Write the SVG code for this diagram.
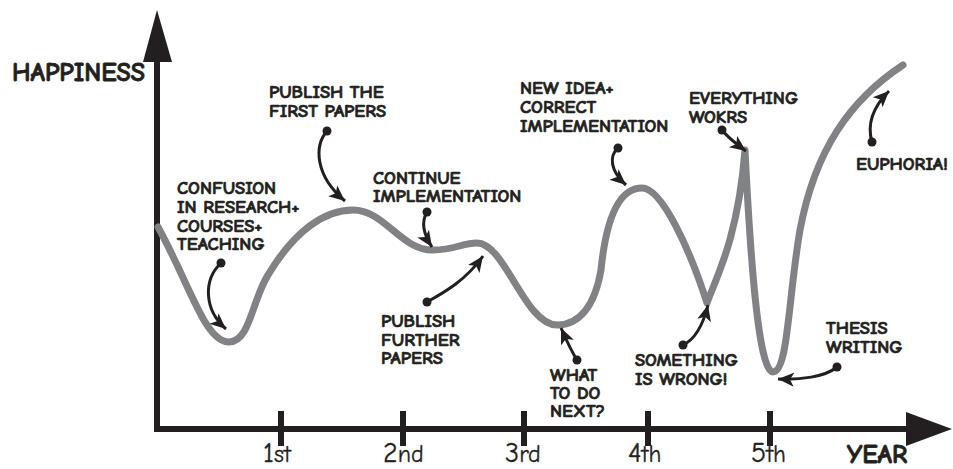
<svg xmlns="http://www.w3.org/2000/svg" width="953" height="469" viewBox="0 0 953 469">
  <style>
    .axis { stroke: #231f20; stroke-width: 6; fill: none; }
    .tick { stroke: #231f20; stroke-width: 6; }
    .curve { stroke: #808285; stroke-width: 7; fill: none; stroke-linejoin: round; stroke-linecap: round; }
    .pointer { stroke: #231f20; stroke-width: 3; fill: none; marker-end: url(#head); }
    .dot { fill: #231f20; }
    .note { font-family: "Comic Sans MS", "Comic Neue", "Liberation Sans", Arial, sans-serif; font-weight: bold; font-size: 18.5px; fill: #231f20; stroke: #231f20; stroke-width: 0.7; }
    .axis-title { font-family: "Comic Sans MS", "Comic Neue", "Liberation Sans", Arial, sans-serif; font-weight: bold; font-size: 26px; fill: #231f20; stroke: #231f20; stroke-width: 0.8; }
    .year-num { font-family: "Comic Sans MS", "Comic Neue", "Liberation Sans", Arial, sans-serif; font-size: 28px; fill: #231f20; stroke: #231f20; stroke-width: 0.3; }
    .year-suf { font-size: 24px; }
  </style>
  <defs>
    <marker id="head" markerUnits="userSpaceOnUse" markerWidth="20" markerHeight="20" viewBox="0 0 20 20" refX="16" refY="10" orient="auto">
      <path d="M0,3 L16,10 L0,17 L4,10 Z" fill="#231f20"/>
    </marker>
  </defs>

  <rect width="953" height="469" fill="#ffffff"/>

  <!-- axes -->
  <g id="axes">
    <path class="axis" d="M157,58 L157,429 L910,429"/>
    <polygon points="157,10 143,62 172,62" fill="#231f20"/>
    <polygon points="952,429 906,412 906,446" fill="#231f20"/>
    <line class="tick" x1="281" y1="411" x2="281" y2="446"/>
    <line class="tick" x1="403" y1="411" x2="403" y2="446"/>
    <line class="tick" x1="524" y1="411" x2="524" y2="446"/>
    <line class="tick" x1="648" y1="411" x2="648" y2="446"/>
    <line class="tick" x1="770" y1="411" x2="770" y2="446"/>
    <text class="axis-title" x="12" y="81">HAPPINESS</text>
    <text class="axis-title" x="847" y="463" font-size="24">YEAR</text>
    <text class="year-num" x="263" y="462">1<tspan class="year-suf">st</tspan></text>
    <text class="year-num" x="383" y="462">2<tspan class="year-suf">nd</tspan></text>
    <text class="year-num" x="505" y="462">3<tspan class="year-suf">rd</tspan></text>
    <text class="year-num" x="628" y="462">4<tspan class="year-suf">th</tspan></text>
    <text class="year-num" x="751" y="462">5<tspan class="year-suf">th</tspan></text>
  </g>

  <!-- happiness curve -->
  <g id="happiness-curve">
    <path class="curve" d="M158,227 C190,285 205,342 229,342 C250,342 252,300 268,275 C295,230 325,210 353,210 C385,210 400,250 433,250 C455,250 462,243 477,243 C505,243 525,325 557,325 C580,325 595,305 601,270 C606,220 618,188 642,188 C662,188 690,250 707,303 C715,280 738,240 745,150 C750,250 758,372 773,372 C788,372 788,300 800,230 C815,150 850,100 903,65"/>
  </g>

  <!-- annotations -->
  <g id="confusion">
    <text class="note" x="177" y="194">CONFUSION</text>
    <text class="note" x="177" y="213">IN RESEARCH+</text>
    <text class="note" x="177" y="232">COURSES+</text>
    <text class="note" x="177" y="250">TEACHING</text>
  </g>
  <g id="first-papers">
    <text class="note" x="269" y="98">PUBLISH THE</text>
    <text class="note" x="269" y="117">FIRST PAPERS</text>
  </g>
  <g id="continue">
    <text class="note" x="373" y="184">CONTINUE</text>
    <text class="note" x="373" y="202">IMPLEMENTATION</text>
  </g>
  <g id="further-papers">
    <text class="note" x="381" y="327">PUBLISH</text>
    <text class="note" x="381" y="346">FURTHER</text>
    <text class="note" x="381" y="364">PAPERS</text>
  </g>
  <g id="what-next">
    <text class="note" x="550" y="381">WHAT</text>
    <text class="note" x="550" y="399">TO DO</text>
    <text class="note" x="550" y="417">NEXT?</text>
  </g>
  <g id="new-idea">
    <text class="note" x="520" y="94">NEW IDEA+</text>
    <text class="note" x="520" y="113">CORRECT</text>
    <text class="note" x="520" y="132">IMPLEMENTATION</text>
  </g>
  <g id="everything-works">
    <text class="note" x="689" y="104">EVERYTHING</text>
    <text class="note" x="689" y="123">WOKRS</text>
  </g>
  <g id="something-wrong">
    <text class="note" x="635" y="366">SOMETHING</text>
    <text class="note" x="635" y="385">IS WRONG!</text>
  </g>
  <g id="thesis">
    <text class="note" x="826" y="334">THESIS</text>
    <text class="note" x="826" y="353">WRITING</text>
  </g>
  <g id="euphoria">
    <text class="note" x="856" y="170">EUPHORIA!</text>
  </g>

  <!-- pointers from notes to the curve -->
  <g id="pointers">
    <path class="pointer" d="M221,263 C203,280 204,310 226,329"/>
    <circle class="dot" cx="221" cy="263" r="4.5"/>
    <path class="pointer" d="M327,131 C314,146 315,176 345,201"/>
    <circle class="dot" cx="327" cy="131" r="4.5"/>
    <path class="pointer" d="M427,212 C421,222 424,235 432,247"/>
    <circle class="dot" cx="427" cy="212" r="4.5"/>
    <path class="pointer" d="M427,302 C445,292 466,280 483,256"/>
    <circle class="dot" cx="427" cy="302" r="4.5"/>
    <path class="pointer" d="M577,360 C572,352 568,344 561,328"/>
    <circle class="dot" cx="577" cy="360" r="4.5"/>
    <path class="pointer" d="M618,148 C609,156 610,171 626,185"/>
    <circle class="dot" cx="618" cy="148" r="4.5"/>
    <path class="pointer" d="M722,130 C728,138 735,143 746,151"/>
    <circle class="dot" cx="722" cy="130" r="4.5"/>
    <path class="pointer" d="M683,345 C696,339 703,325 708,305"/>
    <circle class="dot" cx="683" cy="345" r="4.5"/>
    <path class="pointer" d="M837,367 C825,377 800,380 778,379"/>
    <circle class="dot" cx="837" cy="367" r="4.5"/>
    <path class="pointer" d="M872,142 C867,125 873,107 889,91"/>
    <circle class="dot" cx="872" cy="142" r="4.5"/>
  </g>
</svg>
